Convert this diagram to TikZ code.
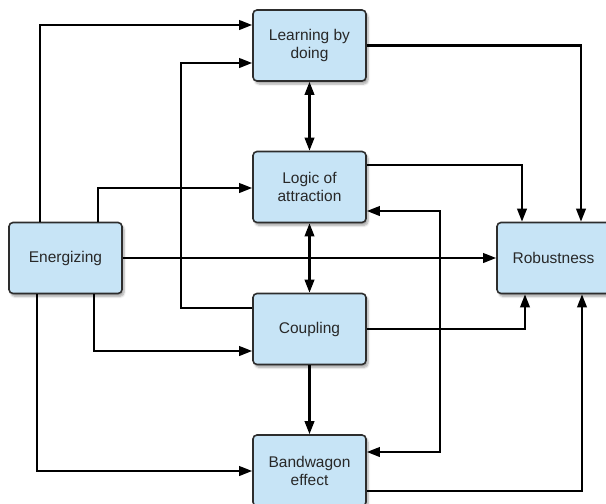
\documentclass[tikz,border=0pt]{standalone}
\usepackage{fontspec}
\setmainfont{Liberation Sans}
\usetikzlibrary{arrows.meta,shadows.blur}
\definecolor{boxfill}{RGB}{199,228,246}
\definecolor{boxline}{RGB}{45,45,45}
\definecolor{boxtext}{RGB}{40,40,40}
\tikzset{
  block/.style={draw=boxline, line width=1.6pt, fill=boxfill, rounded corners=4pt,
    minimum width=113pt, minimum height=71pt, inner sep=0pt, align=center,
    text=boxtext, font=\fontsize{15.5pt}{18pt}\selectfont,
    blur shadow={shadow xshift=2pt, shadow yshift=-3pt, shadow opacity=35, shadow blur steps=6}},
  tip/.style={Triangle[length=13pt,width=9.5pt]},
  arr/.style={line width=2.1pt, -{Triangle[length=13pt,width=9.5pt]}},
  darr/.style={line width=2.1pt, {Triangle[length=13pt,width=9.5pt]}-{Triangle[length=13pt,width=9.5pt]}},
}
\begin{document}
\begin{tikzpicture}[x=1pt,y=1pt]
\useasboundingbox (0,0) rectangle (606,-504);

% boxes
\node[block] (learn) at (309.5,-45.5) {Learning by\\doing};
\node[block] (logic) at (309.5,-187)  {Logic of\\attraction};
\node[block] (energ) at (65.5,-258)   {Energizing};
\node[block] (coup)  at (309.5,-329)  {Coupling};
\node[block] (band)  at (309.5,-470.5){Bandwagon\\effect};
\node[block] (rob)   at (553.5,-258)  {Robustness};

% from Energizing
\draw[arr] (energ.north -| 40,0) |- (learn.west |- 0,-25);
\draw[arr] (energ.north -| 98,0) |- (logic.west |- 0,-188);
\draw[arr] (energ.east) -- (rob.west);
\draw[arr] (energ.south -| 94,0) |- (coup.west |- 0,-351);
\draw[arr] (energ.south -| 37,0) |- (band.west |- 0,-471);

% Coupling back to Learning by doing
\draw[arr] (coup.west |- 0,-308) -- ++(-71,0) |- (learn.west |- 0,-63);

% central column
\draw[darr] (learn.south) -- (logic.north);
\draw[darr] (logic.south) -- (coup.north);
\draw[arr] (coup.south) -- (band.north);

% Logic of attraction <-> Bandwagon effect
\draw[darr] (logic.east |- 0,-211) -- ++(73,0) |- (band.east |- 0,-452);

% into Robustness
\draw[arr] (learn.east) -| (rob.north -| 581,0);
\draw[arr] (logic.east |- 0,-165) -| (rob.north -| 522,0);
\draw[arr] (coup.east) -| (rob.south -| 525,0);
\draw[arr] (band.east |- 0,-491) -| (rob.south -| 582,0);
\end{tikzpicture}
\end{document}
